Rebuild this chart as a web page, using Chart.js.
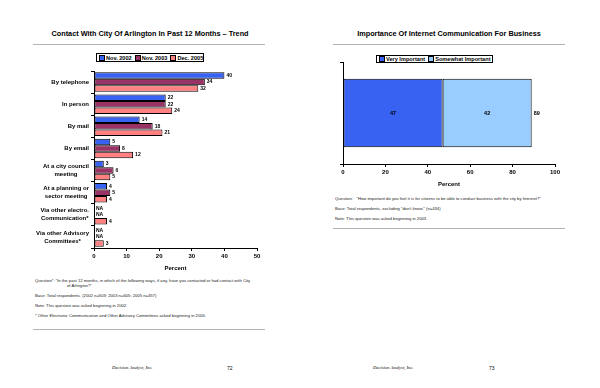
<!DOCTYPE html>
<html>
<head>
<meta charset="utf-8">
<script src="https://cdn.jsdelivr.net/npm/chart.js@4"></script>
<style>
  html, body { margin: 0; padding: 0; background: #fff; }
  body { width: 600px; height: 388px; position: relative; overflow: hidden; font-family: 'Liberation Sans', Arial, sans-serif; color: #000; }
  .abs { position: absolute; }
  .title { font-weight: bold; font-size: 7.3px; white-space: nowrap; transform: translateX(-50%); top: 29px; color: #000; }
  .rule { height: 1px; background: #b4b4b4; }
  .legend { border: 1px solid #000; background: #fff; font-weight: bold; font-size: 5.6px; white-space: nowrap; display: flex; align-items: center; padding: 0 2px; box-sizing: border-box; z-index: 2; }
  .legend span.sw { display: inline-block; width: 4px; height: 4px; border: 1px solid #000; margin-right: 1px; }
  .legend span.it { display: inline-flex; align-items: center; margin-right: 3px; }
  .note { font-size: 4.2px; white-space: nowrap; line-height: 5px; color: #222; }
  .foot { font-family: 'Liberation Serif', serif; font-style: italic; font-size: 4.6px; top: 365px; white-space: nowrap; }
  .pg { font-size: 5px; top: 365px; }
  canvas { position: absolute; }
</style>
</head>
<body>

<div class="abs title" style="left:150px;">Contact With City Of Arlington In Past 12 Months – Trend</div>
<div class="abs rule" style="left:33px; top:44px; width:232px;"></div>
<div class="abs legend" id="legendL" style="left:96px; top:53px; width:108px; height:9px;"></div>
<canvas id="chartL" width="280" height="210" style="left:0px; top:62px;"></canvas>

<div class="abs note" style="left:35px; top:278px;">Question*: "In the past 12 months, in which of the following ways, if any, have you contacted or had contact with City<br><span style="padding-left:32px">of Arlington?"</span></div>
<div class="abs note" style="left:35px; top:293px;">Base: Total respondents. (2002 n=503; 2003 n=605; 2005 n=457)</div>
<div class="abs note" style="left:35px; top:303px;">Note: This question was asked beginning in 2002.</div>
<div class="abs note" style="left:35px; top:313px;">* Other Electronic Communication and Other Advisory Committees asked beginning in 2005.</div>
<div class="abs rule" style="left:33px; top:329px; width:232px;"></div>

<div class="abs title" style="left:449px;">Importance Of Internet Communication For Business</div>
<div class="abs rule" style="left:333px; top:44px; width:232px;"></div>
<div class="abs legend" id="legendR" style="left:376px; top:55px; width:117px; height:8px;"></div>
<canvas id="chartR" width="275" height="132" style="left:300px; top:56px;"></canvas>

<div class="abs note" style="left:335px; top:196px;">Question:&nbsp;&nbsp; "How important do you feel it is for citizens to be able to conduct business with the city by Internet?"</div>
<div class="abs note" style="left:335px; top:206px;">Base: Total respondents, excluding "don't know." (n=434)</div>
<div class="abs note" style="left:335px; top:216px;">Note: This question was asked beginning in 2003.</div>
<div class="abs rule" style="left:333px; top:228px; width:232px;"></div>

<div class="abs foot" style="left:112px;">Decision Analyst, Inc.</div>
<div class="abs pg" style="left:227px;">72</div>
<div class="abs foot" style="left:373px;">Decision Analyst, Inc.</div>
<div class="abs pg" style="left:489px;">73</div>

<script>
// ---------- data ----------
const contactLabels = [
    ['By telephone'],
    ['In person'],
    ['By mail'],
    ['By email'],
    ['At a city council', 'meeting'],
    ['At a planning or', 'sector meeting'],
    ['Via other electro.', 'Communication*'],
    ['Via other Advisory', 'Committees*'],
];
const contactSeries = ['Nov. 2002', 'Nov. 2003', 'Dec. 2005'];
const nov2002 = [40, 22, 14, 5, 3, 4, null, null];
const nov2003 = [34, 22, 18, 8, 6, 5, null, null];
const dec2005 = [32, 24, 21, 12, 5, 4, 4, 3];
const contactColors = ['#3863f2', '#993366', '#ff8080'];
const contactTicks = [0, 10, 20, 30, 40, 50];

const internetSeries = ['Very Important', 'Somewhat Important'];
const veryImportant = [47];
const somewhatImportant = [42];
const internetColors = ['#3863f2', '#99ccff'];
const internetTicks = [0, 20, 40, 60, 80, 100];

const FONT = "'Liberation Sans', Arial, sans-serif";

function buildLegend(id, names, colors) {
    const el = document.getElementById(id);
    el.innerHTML = names.map((n, i) =>
        `<span class="it"><span class="sw" style="background:${colors[i]}"></span>${n}</span>`
    ).join('');
}
buildLegend('legendL', contactSeries, contactColors);
buildLegend('legendR', internetSeries, internetColors);

// value labels next to (or inside) bars, "NA" for missing values
const valueLabels = {
    id: 'valueLabels',
    afterDatasetsDraw(chart, args, opts) {
        const ctx = chart.ctx;
        ctx.save();
        ctx.fillStyle = '#000';
        ctx.font = `bold ${opts.size || 5}px ${FONT}`;
        ctx.textBaseline = 'middle';
        chart.data.datasets.forEach((ds, di) => {
            const meta = chart.getDatasetMeta(di);
            meta.data.forEach((bar, i) => {
                const v = ds.data[i];
                if (opts.inside) {
                    ctx.textAlign = 'center';
                    ctx.fillText(String(v), (bar.x + bar.base) / 2, bar.y);
                } else if (v === null) {
                    ctx.textAlign = 'left';
                    ctx.fillText('NA', chart.chartArea.left + 2, bar.y);
                } else {
                    ctx.textAlign = 'left';
                    ctx.fillText(String(v), bar.x + 2, bar.y);
                }
            });
        });
        if (opts.total) {
            const last = chart.getDatasetMeta(chart.data.datasets.length - 1);
            last.data.forEach((bar, i) => {
                const sum = chart.data.datasets.reduce((s, d) => s + (d.data[i] || 0), 0);
                ctx.textAlign = 'left';
                ctx.fillText(String(sum), bar.x + 2, bar.y);
            });
        }
        ctx.restore();
    },
};

// category labels: block right-aligned to the axis, lines centred on each other
const centredCategoryLabels = {
    id: 'centredCategoryLabels',
    afterDraw(chart, args, opts) {
        if (!opts.enabled) return;
        const ctx = chart.ctx;
        const scale = chart.scales.y;
        ctx.save();
        ctx.fillStyle = '#000';
        ctx.font = `bold 6px ${FONT}`;
        ctx.textAlign = 'center';
        ctx.textBaseline = 'middle';
        const lh = 8;
        chart.data.labels.forEach((lines, i) => {
            const yc = scale.getPixelForValue(i);
            const w = Math.max(...lines.map(l => ctx.measureText(l).width));
            const xc = chart.chartArea.left - 5 - w / 2;
            lines.forEach((l, k) => {
                ctx.fillText(l, xc, yc + (k - (lines.length - 1) / 2) * lh);
            });
        });
        ctx.restore();
    },
};

function axisX(ticks, height) {
    return {
        min: ticks[0],
        max: ticks[ticks.length - 1],
        afterBuildTicks: (s) => { s.ticks = ticks.map(v => ({ value: v })); },
        afterFit: (s) => { s.height = height; },
        border: { display: true, color: '#000', width: 1 },
        grid: { drawOnChartArea: false, drawTicks: true, tickLength: 3, color: '#000' },
        ticks: { color: '#000', font: { family: FONT, size: 6, weight: 'bold' }, padding: 2, maxRotation: 0 },
        title: { display: true, text: 'Percent', color: '#000', font: { family: FONT, size: 6, weight: 'bold' }, padding: { top: 2, bottom: 0 } },
    };
}

new Chart(document.getElementById('chartL'), {
    type: 'bar',
    data: {
        labels: contactLabels,
        datasets: contactSeries.map((name, i) => ({
            label: name,
            data: [nov2002, nov2003, dec2005][i],
            backgroundColor: contactColors[i],
            borderColor: '#000',
            borderWidth: 1,
            borderSkipped: false,
            categoryPercentage: 0.88,
            barPercentage: 1,
        })),
    },
    options: {
        indexAxis: 'y',
        responsive: false,
        animation: false,
        events: [],
        layout: { padding: { top: 9, right: 23, bottom: 0, left: 0 } },
        plugins: {
            legend: { display: false },
            tooltip: { enabled: false },
            valueLabels: { size: 5 },
            centredCategoryLabels: { enabled: true },
        },
        scales: {
            x: axisX(contactTicks, 24),
            y: {
                afterFit: (s) => { s.width = 94; },
                border: { display: true, color: '#000', width: 1 },
                grid: { drawOnChartArea: false, drawTicks: true, tickLength: 3, color: '#000' },
                ticks: { display: false },
            },
        },
    },
    plugins: [valueLabels, centredCategoryLabels],
});

new Chart(document.getElementById('chartR'), {
    type: 'bar',
    data: {
        labels: [''],
        datasets: internetSeries.map((name, i) => ({
            label: name,
            data: [veryImportant, somewhatImportant][i],
            backgroundColor: internetColors[i],
            borderColor: '#000',
            borderWidth: 1,
            borderSkipped: false,
            categoryPercentage: 0.67,
            barPercentage: 1,
        })),
    },
    options: {
        indexAxis: 'y',
        responsive: false,
        animation: false,
        events: [],
        layout: { padding: { top: 6, right: 20, bottom: 0, left: 0 } },
        plugins: {
            legend: { display: false },
            tooltip: { enabled: false },
            valueLabels: { size: 5.5, inside: true, total: true },
            centredCategoryLabels: { enabled: false },
        },
        scales: {
            x: Object.assign(axisX(internetTicks, 24), { stacked: true }),
            y: {
                stacked: true,
                afterFit: (s) => { s.width = 43; },
                border: { display: true, color: '#000', width: 1 },
                grid: { drawOnChartArea: false, drawTicks: true, tickLength: 3, color: '#000' },
                ticks: { display: false },
            },
        },
    },
    plugins: [valueLabels, centredCategoryLabels],
});
</script>
</body>
</html>
